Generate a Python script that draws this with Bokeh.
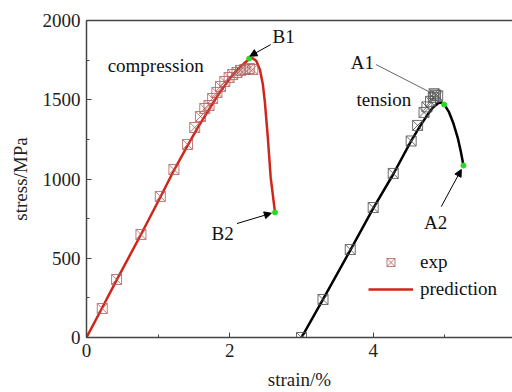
from bokeh.plotting import figure
from bokeh.models import (Range1d, LinearAxis, Label, Arrow, NormalHead, Legend, LegendItem,
                          SingleIntervalTicker, FixedTicker)
from bokeh.embed import file_html
from bokeh.resources import INLINE

# ---- data ----
comp_exp_strain = [0.22, 0.42, 0.76, 1.03, 1.22, 1.41, 1.51, 1.59, 1.65, 1.71, 1.76, 1.82, 1.87,
                   1.93, 1.99, 2.04, 2.10, 2.15, 2.21, 2.27, 2.32]
comp_exp_stress = [183, 366, 650, 890, 1060, 1218, 1325, 1394, 1445, 1464, 1508, 1546, 1584,
                   1615, 1640, 1659, 1672, 1685, 1691, 1697, 1691]

comp_pred_strain = [0.0, 0.21, 0.42, 0.76, 1.03, 1.22, 1.41, 1.55, 1.70, 1.85, 2.00, 2.10, 2.20,
                    2.27, 2.32, 2.37, 2.42, 2.46, 2.49, 2.53, 2.57, 2.61, 2.63]
comp_pred_stress = [0, 180, 362, 650, 885, 1055, 1210, 1322, 1432, 1540, 1635, 1688, 1730,
                    1757, 1762, 1745, 1690, 1600, 1480, 1262, 1010, 864, 789]

tens_exp_strain = [3.00, 3.30, 3.68, 4.00, 4.28, 4.53, 4.62, 4.71, 4.75, 4.80, 4.84, 4.87, 4.90, 4.85]
tens_exp_stress = [0, 240, 555, 820, 1035, 1240, 1338, 1420, 1455, 1490, 1515, 1530, 1525, 1538]

tens_pred_strain = [3.00, 3.30, 3.68, 4.00, 4.28, 4.53, 4.65, 4.75, 4.83, 4.91, 4.96, 5.00, 5.06,
                    5.12, 5.18, 5.22, 5.26]
tens_pred_stress = [0, 240, 550, 815, 1030, 1240, 1330, 1400, 1450, 1480, 1482, 1465, 1420,
                    1350, 1260, 1180, 1085]

# key points B1, B2 (compression) and A1, A2 (tension)
key_strain = [2.27, 2.63, 4.99, 5.26]
key_stress = [1760, 789, 1470, 1085]

FONT = "Liberation Serif"
FS = "19px"
RED = "#d0261a"
AX = "#444444"

p = figure(width=512, height=392, output_backend="svg", toolbar_location=None,
           x_range=Range1d(0, 5.944), y_range=Range1d(0, 2000),
           min_border_left=86, min_border_right=0, min_border_top=20, min_border_bottom=55)
p.outline_line_color = None
p.xgrid.visible = False
p.ygrid.visible = False
p.background_fill_color = "white"
p.border_fill_color = "white"

for ax in (p.xaxis[0], p.yaxis[0]):
    ax.axis_line_color = AX
    ax.axis_line_width = 1.5
    ax.major_tick_in = 5
    ax.major_tick_out = 0
    ax.minor_tick_in = 3
    ax.minor_tick_out = 0
    ax.major_tick_line_color = AX
    ax.minor_tick_line_color = AX
    ax.major_label_text_font = FONT
    ax.major_label_text_font_size = FS
    ax.major_label_text_color = "#222222"
    ax.axis_label_text_font = FONT
    ax.axis_label_text_font_size = FS
    ax.axis_label_text_font_style = "normal"
    ax.axis_label_text_color = "#222222"

p.xaxis[0].ticker = SingleIntervalTicker(interval=2, num_minor_ticks=2)
p.yaxis[0].ticker = SingleIntervalTicker(interval=500, num_minor_ticks=2)
p.xaxis[0].axis_label = "strain/%"
p.yaxis[0].axis_label = "stress/MPa"
p.xaxis[0].major_label_standoff = 6
p.yaxis[0].major_label_standoff = 6
p.xaxis[0].axis_label_standoff = 9
p.yaxis[0].axis_label_standoff = 9

top = LinearAxis(ticker=FixedTicker(ticks=[]), axis_line_color=AX, axis_line_width=1.5,
                 major_tick_line_color=None, minor_tick_line_color=None)
p.add_layout(top, "above")

# lines
tp = p.line(tens_pred_strain, tens_pred_stress, line_color="black", line_width=2.5)
cp = p.line(comp_pred_strain, comp_pred_stress, line_color=RED, line_width=2.5)

# experimental markers
ce = p.scatter(comp_exp_strain, comp_exp_stress, marker="square_x", size=10,
               fill_color=None, line_color="#b05a5a", line_alpha=0.8, line_width=1)
te = p.scatter(tens_exp_strain, tens_exp_stress, marker="square_x", size=10,
               fill_color=None, line_color="#555555", line_alpha=0.85, line_width=1)

# key points
p.scatter(key_strain, key_stress, marker="circle", size=5, fill_color="#22dd22",
          line_color="#22dd22")

# annotations
def lab(x, y, t):
    p.add_layout(Label(x=x, y=y, text=t, text_font=FONT, text_font_size=FS,
                       text_align="center", text_baseline="middle", text_color="#111111"))

lab(0.965, 1716, "compression")
lab(4.15, 1502, "tension")
lab(2.75, 1900, "B1")
lab(1.90, 656, "B2")
lab(3.85, 1735, "A1")
lab(4.87, 726, "A2")

def arr(x0, y0, x1, y1):
    p.add_layout(Arrow(end=NormalHead(size=7, fill_color="black", line_color="black"),
                       x_start=x0, y_start=y0, x_end=x1, y_end=y1,
                       line_color="black", line_width=1))

arr(2.57, 1848, 2.28, 1775)
arr(2.10, 719, 2.58, 784)
arr(4.95, 826, 5.23, 1060)
p.add_layout(Arrow(end=None, x_start=4.04, y_start=1722, x_end=4.83, y_end=1539,
                   line_color="#666666", line_width=1))

legend = Legend(items=[LegendItem(label="exp", renderers=[ce]),
                       LegendItem(label="prediction", renderers=[cp])],
                location=(282, 37), glyph_width=45, glyph_height=20, spacing=5,
                label_standoff=7, padding=0, margin=0, border_line_color=None,
                background_fill_alpha=0, label_text_font=FONT, label_text_font_size=FS,
                label_text_color="#111111")
p.add_layout(legend)

open("out.html", "w").write(file_html(p, INLINE))
